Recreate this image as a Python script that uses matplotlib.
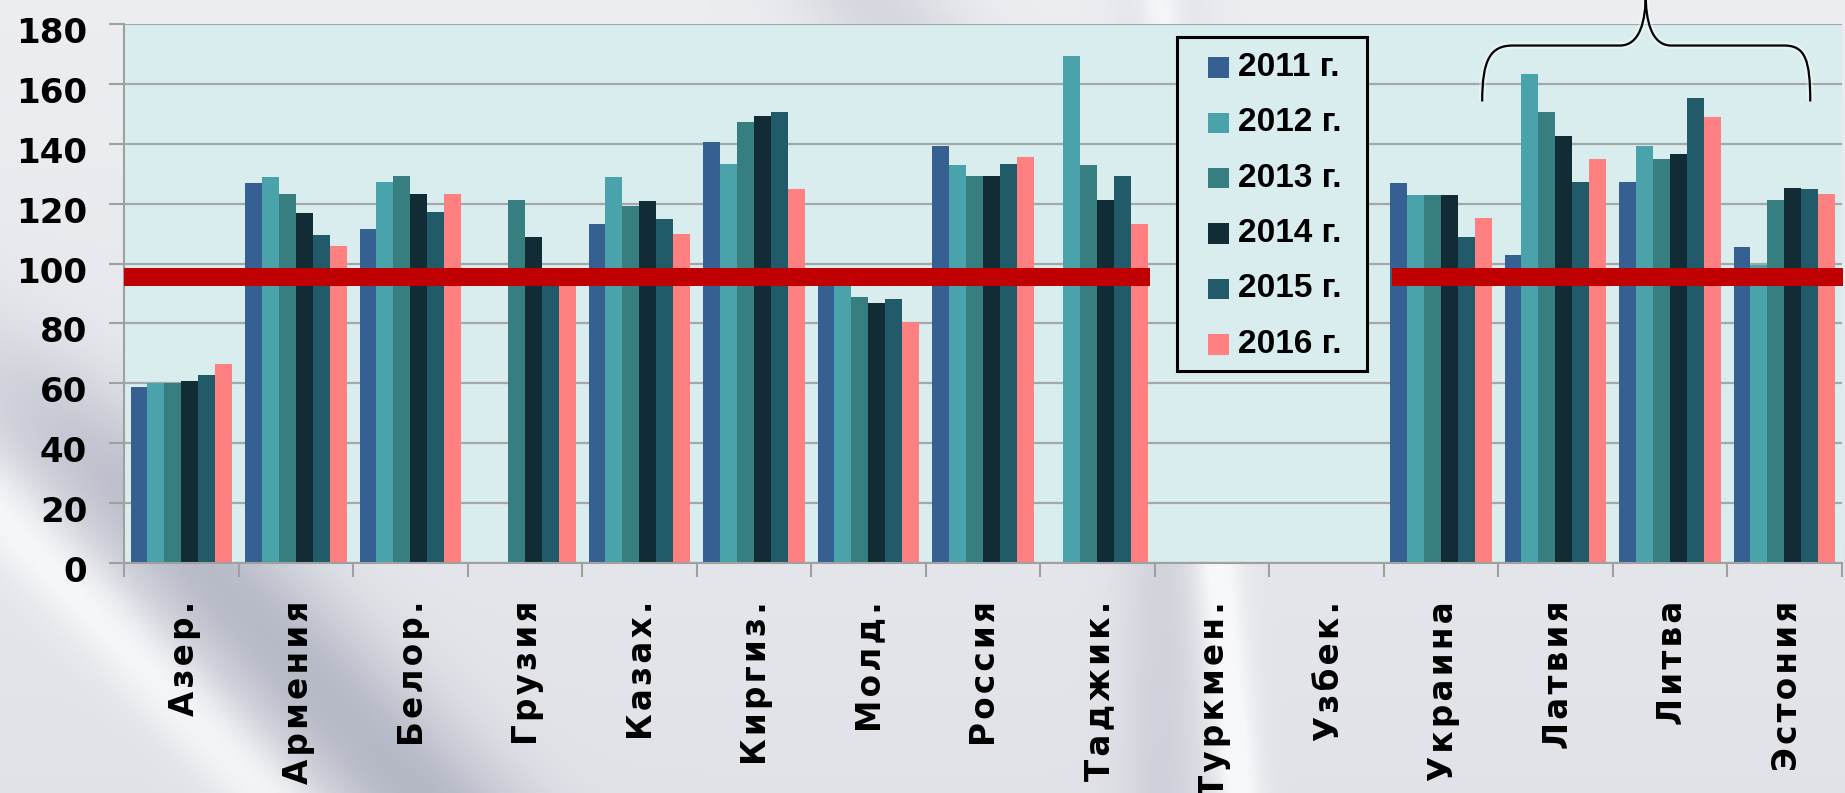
import numpy as np
import matplotlib
matplotlib.use("Agg")
import matplotlib.pyplot as plt
from matplotlib.path import Path
from matplotlib.patches import PathPatch, Rectangle
from matplotlib.colors import LinearSegmentedColormap
from matplotlib.transforms import ScaledTranslation

plt.rcParams['font.family'] = ['DejaVu Sans']
plt.rcParams['font.weight'] = 'bold'

#####   Data   #####
countries = ['Азер.', 'Армения', 'Белор.', 'Грузия', 'Казах.', 'Киргиз.', 'Молд.',
             'Россия', 'Таджик.', 'Туркмен.', 'Узбек.', 'Украина', 'Латвия', 'Литва', 'Эстония']
years = ['2011 г.', '2012 г.', '2013 г.', '2014 г.', '2015 г.', '2016 г.']
nan = np.nan
v2011 = [58.9, 126.8, 111.4, nan, 113.4, 140.8, 97.0, 139.4, nan, nan, nan, 126.8, 102.8, 127.4, 105.4]
v2012 = [60.2, 128.8, 127.4, nan, 128.8, 133.4, 95.0, 132.8, 169.4, nan, nan, 122.8, 163.4, 139.4, 99.5]
v2013 = [60.2, 123.4, 129.4, 121.4, 119.4, 147.4, 88.8, 129.4, 132.8, nan, nan, 122.8, 150.8, 134.8, 121.4]
v2014 = [60.8, 116.8, 123.4, 108.8, 120.8, 149.4, 86.8, 129.4, 121.4, nan, nan, 122.8, 142.8, 136.8, 125.4]
v2015 = [62.8, 109.4, 117.4, 96.0, 114.8, 150.8, 88.1, 133.4, 129.4, nan, nan, 108.8, 127.4, 155.4, 124.8]
v2016 = [66.4, 105.8, 123.1, 95.0, 109.8, 125.1, 80.4, 135.8, 113.1, nan, nan, 115.1, 135.1, 149.1, 123.1]
series = [v2011, v2012, v2013, v2014, v2015, v2016]
colors = ['#376092', '#4aa3aa', '#367e80', '#112c35', '#215a68', '#ff8080']

# red reference band (y range) and its two x spans
band_lo, band_hi = 92.5, 98.6
band_spans = [(-0.52, 8.46), (10.57, 14.6)]

W, H = 1845, 793
fig = plt.figure(figsize=(W / 100, H / 100), dpi=100)

#####   Background texture   #####
bg = fig.add_axes([0, 0, 1, 1])
yy, xx = np.mgrid[0:H:3, 0:W:3].astype(float)
tex = np.full(xx.shape, 0.90) + 0.05 * (1 - yy / H)
d = xx - 0.94 * (yy - 350)
gate = 1 / (1 + np.exp(-(yy - 380) / 50))
tex -= 0.20 * np.exp(-(d / 100.0) ** 2) * gate
tex += 0.10 * np.exp(-((d + 150) / 50.0) ** 2) * gate
tex += 0.12 * np.exp(-((xx - 1215 - 0.1 * (yy - 560)) / 22.0) ** 2)
tex -= 0.08 * np.exp(-((xx - 1160) / 40.0) ** 2)
tex -= 0.10 * np.exp(-((xx - 870 - 0.8 * yy) / 80.0) ** 2) * (yy < 60)
cmap = LinearSegmentedColormap.from_list('silver', ['#9ea2b3', '#f7f8fa'])
bg.imshow(tex, cmap=cmap, vmin=0.6, vmax=1.0, aspect='auto', extent=[0, W, H, 0])
bg.axis('off')

#####   Main chart   #####
ax = fig.add_axes([124 / W, 1 - 562.7 / H, 1717.5 / W, 538.4 / H])
ax.set_facecolor('#d9edee')
x = np.arange(len(countries))
bw = 0.148
for k, (vals, col) in enumerate(zip(series, colors)):
    ax.bar(x - 0.443 + bw * (k + 0.5), vals, width=bw, color=col, zorder=2)

for x0, x1 in band_spans:
    ax.fill_between([x0, x1], band_lo, band_hi, color='#c00000', lw=0, zorder=3)

ax.set_xlim(-0.5, 14.5)
ax.set_ylim(0, 180)
ax.set_yticks(range(0, 181, 20))
ax.yaxis.grid(True, color='#a3a8a8', lw=1.6)
ax.set_axisbelow(True)
for s in ['top', 'right']:
    ax.spines[s].set_visible(False)
for s in ['left', 'bottom']:
    ax.spines[s].set_color('#a0a0a0')
    ax.spines[s].set_linewidth(1.5)
ax.tick_params(axis='y', length=10.5, width=1.5, color='#a0a0a0', pad=16, labelsize=24.5)
# the value labels sit a little below their grid lines
shift = ScaledTranslation(0, -0.06, fig.dpi_scale_trans)
for lbl in ax.get_yticklabels():
    lbl.set_transform(lbl.get_transform() + shift)

ax.set_xticks(np.arange(-0.5, 15, 1))
ax.set_xticklabels([])
ax.tick_params(axis='x', which='major', length=10, width=1.5, color='#a0a0a0')
# country names, letter-spaced with hair spaces
ax.set_xticks(x + 0.025, minor=True)
ax.set_xticklabels(['\u200a'.join(c) for c in countries], minor=True,
                   rotation=90, fontsize=23.5, fontweight='bold', va='top')
ax.tick_params(axis='x', which='minor', length=0, pad=27.4)

# brace over the Baltic states
bx = [11.362, 11.362, 11.432, 11.629, 12.564, 12.742, 12.790, 12.790,
      12.790, 12.838, 13.013, 14.000, 14.183, 14.227, 14.227]
by = [154.2, 168.1, 172.9, 172.9, 172.9, 172.9, 181.4, 190.0,
      181.4, 172.9, 172.9, 172.9, 172.9, 168.1, 154.2]
codes = [Path.MOVETO, Path.CURVE4, Path.CURVE4, Path.CURVE4, Path.LINETO,
         Path.CURVE4, Path.CURVE4, Path.CURVE4, Path.CURVE4, Path.CURVE4, Path.CURVE4,
         Path.LINETO, Path.CURVE4, Path.CURVE4, Path.CURVE4]
brace = Path(list(zip(bx, by)), codes)
ax.add_patch(PathPatch(brace, fill=False, ec='white', lw=5, alpha=0.35, clip_on=False, zorder=4))
ax.add_patch(PathPatch(brace, fill=False, ec='black', lw=1.6, clip_on=False, zorder=5))

#####   Legend (drawn by hand to match the boxed layout)   #####
def fx(px):
    return px / W

def fy(py):
    return 1 - py / H

fig.add_artist(Rectangle((fx(1177), fy(371)), fx(1367) - fx(1177), fy(36.5) - fy(371),
                         transform=fig.transFigure, fc='#d9edee', ec='black', lw=2.2, zorder=6))
for k, (lab, col) in enumerate(zip(years, colors)):
    cy = 67.3 + 55.4 * k
    fig.add_artist(Rectangle((fx(1208.3), fy(cy + 10.3)), fx(21), 20.5 / H,
                             transform=fig.transFigure, fc=col, ec='none', zorder=7))
    fig.text(fx(1237.5), fy(cy), lab, fontsize=24, fontweight='bold', va='center', ha='left',
             family=['Liberation Sans', 'DejaVu Sans'], zorder=7)

fig.savefig('out.png', dpi=100)
